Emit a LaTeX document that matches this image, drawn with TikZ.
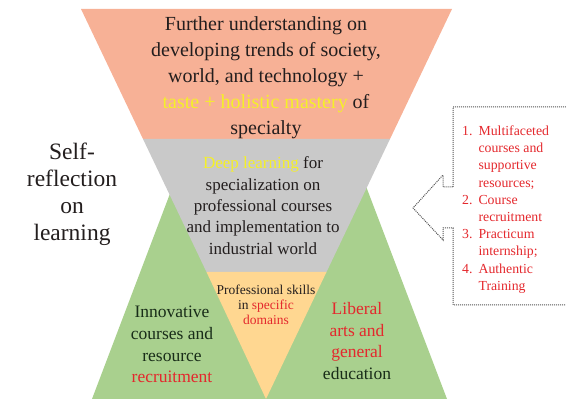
\documentclass[tikz,border=0pt]{standalone}
\usepackage{fontspec}
\setmainfont{Liberation Serif}
\usepackage{tikz}
\usetikzlibrary{positioning}
\definecolor{trOrange}{RGB}{247,177,150}
\definecolor{trGray}{RGB}{201,201,201}
\definecolor{trGreen}{RGB}{169,208,142}
\definecolor{trYellow}{RGB}{255,215,145}
\definecolor{txYellow}{RGB}{245,240,40}
\definecolor{txRed}{RGB}{228,40,45}
\definecolor{txDark}{RGB}{35,30,30}
\definecolor{txGreen}{RGB}{25,45,25}
\definecolor{lnGray}{RGB}{85,85,85}
\tikzset{
    base/.style={align=center, inner sep=0pt, text=txDark},
    toptext/.style={base, font=\fontsize{20}{26}\selectfont},
    midtext/.style={base, font=\fontsize{17}{21.3}\selectfont},
    lowtext/.style={base, font=\fontsize{13.5}{15}\selectfont},
    sidetext/.style={base, text=txGreen, font=\fontsize{17.5}{21.7}\selectfont},
    selftext/.style={base, font=\fontsize{23.5}{27}\selectfont},
    listtext/.style={inner sep=0pt, text=txRed, anchor=west, font=\fontsize{13.8}{17.2}\selectfont},
    notearrow/.style={densely dotted, draw=lnGray, line width=1pt}
}
\begin{document}
\begin{tikzpicture}[x=1pt, y=-1pt]
  \useasboundingbox (0,0) rectangle (566,401);

  % Upright green triangles
  \fill[trGreen] (92,399) -- (182,162) -- (272,399) -- cycle;
  \fill[trGreen] (262,399) -- (354.5,156) -- (447,399) -- cycle;

  % Inverted triangle in three bands
  \fill[trOrange] (81,9) -- (452,9) -- (390,139) -- (143,139) -- cycle;
  \fill[trGray] (143,139) -- (390,139) -- (326.5,272) -- (206.5,272) -- cycle;
  \fill[trYellow] (206.5,272) -- (326.5,272) -- (266,399) -- cycle;

  % Texts in the bands
  \node[toptext] (further) at (266,77.5) {Further understanding on\\
    developing trends of society,\\ world, and technology +\\
    \textcolor{txYellow}{taste + holistic mastery} of\\ specialty};
  \node[midtext] (deep) at (263,205.5) {\textcolor{txYellow}{Deep learning} for\\
    specialization on\\ professional courses\\ and implementation to\\ industrial world};
  \node[lowtext] (skills) at (266,305) {Professional skills\\
    in \textcolor{txRed}{specific}\\ \textcolor{txRed}{domains}};
  \node[sidetext] (innov) at (172,344.5) {Innovative\\ courses and\\ resource\\
    \textcolor{txRed}{recruitment}};
  \node[sidetext] (liberal) at (357,341) {\textcolor{txRed}{Liberal}\\
    \textcolor{txRed}{arts and}\\ \textcolor{txRed}{general}\\ education};

  % Side label
  \node[selftext] (self) at (72,194) {Self-\\ reflection\\ on\\ learning};

  % Dotted note box with arrow
  \draw[notearrow] (453,187) -- (453,107) -- (575,107) -- (575,305) -- (453,305)
    -- (453,228) -- (443,228) -- (443,240) -- (413,208) -- (443,175) -- (443,187) -- cycle;
  \node[listtext] (measures) at (462,209.5) {%
    \begin{tabular}{@{}l@{\hspace{6pt}}l@{}}
      1. & Multifaceted\\ & courses and\\ & supportive\\ & resources;\\
      2. & Course\\ & recruitment\\
      3. & Practicum\\ & internship;\\
      4. & Authentic\\ & Training
    \end{tabular}};
\end{tikzpicture}
\end{document}
